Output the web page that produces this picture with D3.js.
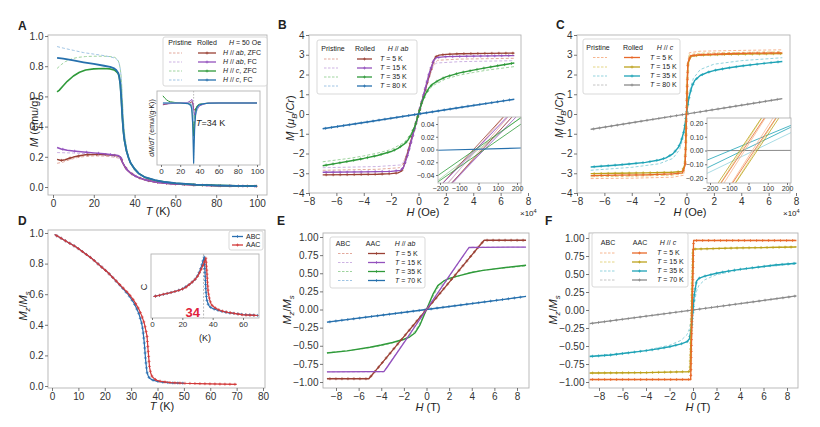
<!DOCTYPE html>
<html>
<head>
<meta charset="utf-8">
<script src="https://cdn.jsdelivr.net/npm/d3@7"></script>
<style>
  body { margin: 0; background: #fff; }
  svg { font-family: "Liberation Sans", Arial, sans-serif; }
</style>
</head>
<body>
<svg id="fig" width="820" height="427"></svg>
<script>
// ---------------- data ----------------
// A: M (emu/g) vs T (K), H = 50 Oe.  rolled = solid, pristine = dashed
const aAbZfc = [[2,.183],[4,.176],[6,.18],[8,.19],[10,.198],[13,.207],[16,.213],[20,.216],[25,.216],[30,.21],[32,.206],[33,.198],[33.5,.185],[34,.165],[35,.14],[36,.12],[37,.105],[38,.093],[40,.075],[42,.062],[45,.048],[50,.033],[55,.025],[60,.02],[70,.013],[80,.009],[90,.007],[100,.005]];
const aAbFc = [[2,.262],[4,.252],[7,.243],[10,.238],[15,.232],[20,.226],[25,.22],[30,.212],[32,.208],[33,.2],[33.5,.185],[34,.165],[35,.14],[36,.12],[37,.105],[38,.093],[40,.075],[42,.062],[45,.048],[50,.033],[55,.025],[60,.02],[70,.013],[80,.009],[90,.007],[100,.005]];
const aCZfc = [[2,.63],[3,.64],[5,.67],[7,.70],[10,.735],[13,.76],[16,.775],[20,.782],[25,.785],[28,.782],[30,.775],[31,.765],[32,.75],[32.5,.725],[33,.68],[33.5,.58],[34,.46],[34.5,.37],[35,.31],[36,.24],[37,.195],[38,.16],[40,.12],[42,.09],[45,.065],[50,.045],[55,.033],[60,.025],[70,.016],[80,.011],[90,.008],[100,.006]];
const aCFc = [[2,.855],[5,.85],[10,.838],[15,.826],[20,.815],[25,.803],[28,.795],[30,.785],[31,.775],[32,.755],[32.5,.73],[33,.68],[33.5,.58],[34,.46],[34.5,.37],[35,.31],[36,.24],[37,.195],[38,.16],[40,.12],[42,.09],[45,.065],[50,.045],[55,.033],[60,.025],[70,.016],[80,.011],[90,.008],[100,.006]];
const aAbZfcP = [[2,.157],[5,.165],[8,.18],[12,.195],[16,.203],[20,.206],[25,.205],[30,.198],[32,.192],[33,.185],[34,.165],[35,.14],[36,.12],[38,.09],[40,.072],[45,.046],[50,.032],[60,.019],[80,.009],[100,.005]];
const aAbFcP = [[2,.228],[10,.225],[20,.218],[28,.205],[32,.195],[33,.19],[34,.17],[35,.14],[36,.12],[38,.09],[40,.072],[45,.046],[50,.032],[60,.019],[80,.009],[100,.005]];
const aCZfcP = [[2,.785],[4,.81],[6,.83],[9,.848],[12,.858],[16,.864],[20,.866],[25,.866],[28,.864],[30,.86],[31,.852],[32,.835],[32.5,.815],[33,.78],[33.5,.72],[34,.58],[34.5,.45],[35,.36],[36,.26],[37,.2],[38,.155],[40,.11],[45,.06],[50,.04],[60,.022],[80,.01],[100,.006]];
const aCFcP = [[2,.93],[5,.92],[10,.905],[15,.89],[20,.88],[25,.87],[28,.862],[30,.855],[31,.848],[32,.835],[32.5,.815],[33,.78],[33.5,.72],[34,.58],[34.5,.45],[35,.36],[36,.26],[37,.2],[38,.155],[40,.11],[45,.06],[50,.04],[60,.022],[80,.01],[100,.006]];
// A inset: dM/dT (arb.)
const aiAbZfc = [[2,-.03],[5,-.02],[10,0],[30,0],[32,.02],[33,0],[34,-.1],[35,-.12],[36,-.1],[38,-.05],[40,-.025],[50,0],[100,0]];
const aiAbFc = [[2,-.02],[10,-.01],[20,0],[28,.01],[31,.04],[32,.06],[33,.02],[34,-.12],[35,-.2],[36,-.17],[38,-.1],[40,-.05],[45,-.015],[50,0],[100,0]];
const aiCZfc = [[2,.12],[4,.08],[6,.05],[8,.03],[10,.02],[14,.01],[20,0],[30,-.01],[32,-.05],[33,-.2],[34,-.55],[35,-.25],[36,-.1],[38,-.04],[40,-.02],[50,0],[100,0]];
const aiCFcP = [[2,0],[30,0],[32,-.03],[33,-.12],[34,-.3],[35,-.3],[36,-.2],[38,-.08],[40,-.03],[45,-.01],[50,0],[100,0]];
const aiCFc = [[2,0],[10,0],[20,0],[28,-.01],[31,-.04],[32,-.1],[33,-.35],[34,-1.0],[35,-.45],[36,-.2],[37,-.1],[38,-.06],[40,-.03],[45,-.01],[50,-.004],[60,0],[100,0]];
const aTicksX = [0, 20, 40, 60, 80, 100];
const aTicksY = [0, .2, .4, .6, .8, 1];

// B: M (muB/Cr) vs H (x10^4 Oe), H // ab
const b5 = [[-7,-3.08],[-5,-3.07],[-3,-3.05],[-2,-3.02],[-1.5,-2.98],[-1.25,-2.9],[-1.1,-2.7],[-0.8,-2.0],[-0.4,-1.0],[0,0],[0.4,1.0],[0.8,2.0],[1.1,2.7],[1.25,2.9],[1.5,2.98],[2,3.02],[3,3.05],[5,3.07],[7,3.08]];
const b15 = [[-7,-2.95],[-4,-2.93],[-2,-2.9],[-1.3,-2.85],[-1.1,-2.7],[-0.8,-2.1],[-0.4,-1.05],[0,0],[0.4,1.05],[0.8,2.1],[1.1,2.7],[1.3,2.85],[2,2.9],[4,2.93],[7,2.96]];
const b35 = [[-7,-2.62],[-6,-2.5],[-5,-2.38],[-4,-2.25],[-3,-2.1],[-2,-1.9],[-1.5,-1.74],[-1,-1.5],[-0.75,-1.3],[-0.5,-1.0],[-0.25,-0.6],[0,0],[0.25,0.6],[0.5,1.0],[0.75,1.3],[1,1.5],[1.5,1.72],[2,1.88],[3,2.08],[4,2.22],[5,2.35],[6,2.47],[7,2.58]];
const b80 = [[-7,-0.75],[-3.5,-0.38],[0,0],[3.5,0.38],[7,0.75]];
const b5P = [[-7,-2.85],[-3,-2.8],[-1.4,-2.72],[-1.15,-2.55],[-0.8,-1.9],[-0.4,-0.98],[0,0],[0.4,0.98],[0.8,1.9],[1.15,2.55],[1.4,2.72],[3,2.78],[7,2.82]];
const b15P = [[-7,-2.72],[-3,-2.66],[-1.3,-2.58],[-1.05,-2.4],[-0.8,-1.9],[-0.4,-0.98],[0,0],[0.4,0.98],[0.8,1.9],[1.05,2.4],[1.3,2.58],[3,2.65],[7,2.7]];
const b35P = [[-7,-2.42],[-5,-2.24],[-4,-2.12],[-3,-1.98],[-2,-1.8],[-1,-1.42],[-0.5,-0.95],[-0.25,-0.55],[0,0],[0.25,0.55],[0.5,0.95],[1,1.42],[2,1.78],[3,1.97],[4,2.1],[5,2.22],[7,2.4]];
const b80P = [[-7,-0.73],[0,0],[7,0.73]];
// B inset (Oe vs muB/Cr): each series holds the two sweep branches
const bi5 = [[[-250,-0.074],[250,0.091]], [[-250,-0.089],[250,0.076]]];
const bi15 = [[[-250,-0.073],[250,0.082]], [[-250,-0.087],[250,0.068]]];
const bi35 = [[[-250,-0.049],[250,0.056]], [[-250,-0.059],[250,0.046]]];
const bi80 = [[[-250,-0.0015],[250,0.0025]]];
const bi5P = [[[-250,-0.086],[250,0.094]], [[-250,-0.094],[250,0.086]]];
const bi15P = [[[-250,-0.083],[250,0.087]], [[-250,-0.093],[250,0.077]]];
const bi35P = [[[-250,-0.0575],[250,0.0575]]];
const hTicksMain = [-8, -6, -4, -2, 0, 2, 4, 6, 8];
const mTicks = [-4, -3, -2, -1, 0, 1, 2, 3, 4];
const insetHTicks = [-200, -100, 0, 100, 200];
const biTicksY = [-0.04, -0.02, 0, 0.02, 0.04];

// C: M (muB/Cr) vs H (x10^4 Oe), H // c
const c5 = [[-7,-3.12],[-5,-3.1],[-3,-3.08],[-1,-3.03],[-0.3,-2.98],[-0.1,-2.6],[0,0],[0.1,2.6],[0.3,2.95],[1,3.0],[3,3.05],[5,3.08],[7,3.1]];
const c15 = [[-7,-3.02],[-5,-3.0],[-3,-2.98],[-1,-2.95],[-0.3,-2.9],[-0.1,-2.5],[0,0],[0.1,2.5],[0.3,2.92],[1,2.98],[3,3.02],[5,3.04],[7,3.06]];
const c35 = [[-7,-2.68],[-6,-2.63],[-5,-2.58],[-4,-2.52],[-3,-2.45],[-2,-2.33],[-1.5,-2.22],[-1,-2.02],[-0.6,-1.7],[-0.4,-1.4],[-0.2,-0.9],[-0.1,-0.5],[0,0],[0.1,0.5],[0.2,0.9],[0.4,1.4],[0.6,1.7],[1,1.95],[1.5,2.1],[2,2.2],[3,2.33],[4,2.43],[5,2.51],[6,2.59],[7,2.66]];
const c80 = [[-7,-0.78],[-3.5,-0.39],[0,0],[3.5,0.39],[7,0.78]];
const c5P = [[-7,-3.27],[-4,-3.25],[-1,-3.2],[-0.2,-3.1],[-0.05,-2.0],[0,0],[0.05,2.0],[0.2,3.1],[1,3.18],[4,3.22],[7,3.25]];
const c15P = [[-7,-3.18],[-4,-3.15],[-1,-3.1],[-0.2,-3.0],[-0.05,-2.0],[0,0],[0.05,2.0],[0.2,3.0],[1,3.08],[4,3.12],[7,3.15]];
const c35P = [[-7,-2.85],[-4,-2.7],[-2,-2.52],[-1,-2.25],[-0.5,-1.8],[-0.25,-1.2],[-0.1,-0.55],[0,0],[0.1,0.55],[0.25,1.2],[0.5,1.8],[1,2.25],[2,2.52],[4,2.7],[7,2.85]];
const c80P = [[-7,-0.77],[0,0],[7,0.77]];
// C inset
const ci5 = [[[-250,-0.462],[250,0.588]], [[-250,-0.588],[250,0.462]]];
const ci15 = [[[-250,-0.43],[250,0.62]], [[-250,-0.62],[250,0.43]]];
const ci35 = [[[-250,-0.09],[250,0.20]], [[-250,-0.15],[250,0.19]]];
const ci80 = [[[-250,-0.001],[250,0.001]]];
const ci5P = [[[-250,-0.506],[250,0.594]], [[-250,-0.594],[250,0.506]]];
const ci15P = [[[-250,-0.467],[250,0.633]], [[-250,-0.633],[250,0.467]]];
const ci35P = [[[-250,-0.19],[250,0.15]]];
const ciTicksY = [-0.2, -0.1, 0, 0.1, 0.2];

// D: Mz/Ms vs T (K) and inset specific heat C (arb.)
const dAAC = [[1,.99],[3,.97],[5,.95],[7,.93],[9,.91],[11,.885],[13,.86],[15,.835],[17,.805],[19,.775],[21,.745],[23,.71],[25,.675],[27,.64],[29,.605],[31,.56],[32,.53],[33,.5],[34,.46],[35,.41],[36,.33],[36.5,.22],[37,.12],[37.5,.08],[38,.06],[39,.045],[40,.035],[42,.028],[45,.022],[50,.018],[55,.016],[60,.014],[65,.012],[70,.011]];
const dABC = [[1,.99],[3,.97],[5,.95],[7,.93],[9,.91],[11,.885],[13,.86],[15,.835],[17,.805],[19,.775],[21,.745],[23,.71],[25,.672],[27,.635],[29,.595],[31,.545],[32,.51],[33,.47],[34,.41],[34.5,.36],[35,.28],[35.5,.17],[36,.09],[36.5,.065],[37,.05],[38,.04],[40,.03],[42,.025],[45,.021],[50,.018]];
const dTicksX = [0, 10, 20, 30, 40, 50, 60, 70, 80];
const dTicksY = [0, .2, .4, .6, .8, 1];
const diAAC = [[1,.34],[3,.35],[5,.36],[8,.38],[10,.39],[12,.4],[15,.42],[18,.44],[20,.46],[22,.48],[24,.52],[26,.56],[28,.6],[30,.66],[31,.7],[32,.75],[33,.8],[34,.86],[35,.92],[35.5,.95],[36,.8],[36.5,.6],[37,.42],[38,.29],[39,.22],[40,.19],[42,.155],[45,.12],[48,.1],[50,.09],[55,.07],[60,.05],[65,.045],[70,.04]];
const diABC = [[1,.34],[5,.36],[10,.39],[15,.42],[20,.46],[25,.54],[28,.6],[30,.67],[31,.72],[32,.78],[33,.85],[34,.94],[34.5,.97],[35,.7],[35.5,.45],[36,.3],[37,.22],[38,.18],[40,.15],[45,.11],[50,.085],[60,.055],[70,.04]];
const diTicksX = [0, 20, 40, 60];

// E: Mz/Ms vs H (T), H // ab   (AAC solid, ABC dashed)
const e5 = [[-8.8,-.955],[-6,-.955],[-5.1,-.955],[-4,-.75],[-2,-.375],[0,0],[2,.375],[4,.75],[5.1,.955],[6,.955],[8.8,.955]];
const e15 = [[-8.8,-.86],[-5,-.858],[-3.75,-.855],[-3.5,-.8],[-2,-.46],[0,0],[2,.46],[3.5,.8],[3.75,.855],[5,.858],[8.8,.86]];
const e35 = [[-8.8,-.6],[-7,-.57],[-5,-.52],[-4,-.49],[-3,-.455],[-2,-.41],[-1.5,-.38],[-1,-.32],[-0.6,-.22],[-0.3,-.11],[0,0],[0.3,.11],[0.6,.22],[1,.33],[1.5,.39],[2,.43],[3,.47],[4,.51],[5,.54],[7,.58],[8.8,.61]];
const e70 = [[-8.8,-.175],[0,0],[8.8,.18]];
const e5P = [[-8.8,-.95],[-5,-.95],[-2.5,-.47],[0,0],[2.5,.47],[5,.95],[8.8,.95]];
const e15P = [[-8.8,-.86],[-3.8,-.86],[0,0],[3.8,.86],[8.8,.86]];
const e35P = [[-8.8,-.595],[-6,-.55],[-4,-.5],[-2,-.42],[-1,-.3],[-0.5,-.16],[0,0],[0.5,.16],[1,.3],[2,.42],[4,.52],[6,.56],[8.8,.6]];
const e70P = [[-8.8,-.178],[0,0],[8.8,.182]];
const efTicksY = [-1, -.75, -.5, -.25, 0, .25, .5, .75, 1];

// F: Mz/Ms vs H (T), H // c
const f5 = [[-8.8,-.965],[-0.2,-.965],[0.05,.965],[8.8,.965]];
const f15 = [[-8.8,-.875],[-4,-.87],[-0.25,-.855],[0,.845],[4,.862],[8.8,.875]];
const f35 = [[-8.8,-.645],[-7,-.625],[-6,-.605],[-5,-.585],[-4,-.565],[-3,-.54],[-2,-.51],[-1,-.47],[-0.5,-.44],[-0.3,-.40],[-0.1,-.2],[0,0],[0.1,.2],[0.3,.40],[0.5,.44],[1,.47],[2,.51],[3,.54],[4,.565],[5,.585],[6,.605],[7,.625],[8.8,.65]];
const f70 = [[-8.8,-.19],[0,0],[8.8,.195]];
const f5P = [[-8.8,-.97],[-0.15,-.97],[0.05,.97],[8.8,.97]];
const f15P = [[-8.8,-.88],[-0.2,-.86],[0.05,.85],[8.8,.88]];
const f35P = [[-8.8,-.64],[-6,-.6],[-4,-.56],[-2,-.49],[-1,-.42],[-0.5,-.34],[-0.3,-.26],[0,0],[0.3,.26],[0.5,.34],[1,.42],[2,.49],[4,.56],[6,.6],[8.8,.64]];
const f70P = [[-8.8,-.188],[0,0],[8.8,.193]];

// ---------------- colours ----------------
const col = {
  brown: '#9a4034', purple: '#9351bd', green: '#2f9a3a', blue: '#2670ad',
  orange: '#e8692a', olive: '#bda21c', teal: '#1ea3b6', gray: '#8a8a8a',
  brownL: '#e3a99c', purpleL: '#cdb3e3', greenL: '#9fd49f', blueL: '#9fc4e4',
  orangeL: '#f6b690', oliveL: '#e4d585', tealL: '#93d3dd', grayL: '#c4c4c4',
  abc: '#2a6fb0', aac: '#d23a3a'
};

// ---------------- helpers ----------------
const svg = d3.select('#fig');
const fmt1 = d3.format('.1f'), fmt2 = d3.format('.2f'), fmtI = d3.format('d');
let nClip = 0;

function rich(g, x, y, parts, o = {}) {
  const fs = o.size || 11;
  const t = g.append('text').attr('x', x).attr('y', y).attr('font-size', fs)
    .attr('text-anchor', o.anchor || 'start').attr('fill', o.fill || '#222');
  if (o.weight) t.attr('font-weight', o.weight);
  if (o.rotate) t.attr('transform', `rotate(-90,${x},${y})`);
  let shift = 0;
  parts.forEach(p => {
    const [s, st] = typeof p === 'string' ? [p, ''] : p;
    const ts = t.append('tspan').text(s);
    if (st.includes('i')) ts.attr('font-style', 'italic');
    const want = st.includes('_') ? fs * 0.3 : st.includes('^') ? -fs * 0.4 : 0;
    if (want !== shift) { ts.attr('dy', want - shift); shift = want; }
    if (want) ts.attr('font-size', fs * 0.7);
  });
  return t;
}

function panel(o) {
  const g = svg.append('g');
  const f = o.frame;
  const x = d3.scaleLinear().domain([o.x[0], o.x[2]]).range([o.x[1], o.x[3]]);
  const y = d3.scaleLinear().domain([o.y[0], o.y[2]]).range([o.y[1], o.y[3]]);
  const id = 'clip' + (nClip++);
  g.append('clipPath').attr('id', id).append('rect')
    .attr('x', f.l).attr('y', f.t).attr('width', f.r - f.l).attr('height', f.b - f.t);
  g.append('rect').attr('x', f.l).attr('y', f.t).attr('width', f.r - f.l).attr('height', f.b - f.t)
    .attr('fill', '#fff');
  const plot = g.append('g').attr('clip-path', `url(#${id})`);
  g.append('rect').attr('x', f.l).attr('y', f.t).attr('width', f.r - f.l).attr('height', f.b - f.t)
    .attr('fill', 'none').attr('stroke', o.frameColor || '#b3b3b3').attr('stroke-width', 0.9);
  const fs = o.fs || 10, tk = o.tick || 3;
  const style = a => {
    a.attr('font-family', null).attr('font-size', null);
    a.select('.domain').remove();
    a.selectAll('text').attr('font-size', fs).attr('fill', '#333');
    a.selectAll('line').attr('stroke', '#555').attr('stroke-width', 0.8);
  };
  if (o.xt) g.append('g').attr('transform', `translate(0,${f.b})`)
    .call(d3.axisBottom(x).tickValues(o.xt).tickFormat(o.xf || fmtI).tickSize(tk).tickPadding(1.5)).call(style);
  if (o.yt) g.append('g').attr('transform', `translate(${f.l},0)`)
    .call(d3.axisLeft(y).tickValues(o.yt).tickFormat(o.yf || fmtI).tickSize(tk).tickPadding(1.5)).call(style);
  return { g, x, y, plot };
}

function curve(p, data, color, o = {}) {
  const path = p.plot.append('path').datum(data)
    .attr('d', d3.line().x(d => p.x(d[0])).y(d => p.y(d[1])))
    .attr('fill', 'none').attr('stroke', color).attr('stroke-width', o.w || 1.3)
    .attr('stroke-linejoin', 'round')
    .attr('stroke-dasharray', o.dash ? '3,2' : null);
  if (o.mk) {
    const node = path.node(), L = node.getTotalLength();
    for (let s = o.mk / 2; s < L; s += o.mk) {
      const q = node.getPointAtLength(s);
      p.plot.append('path').attr('d', `M${q.x - 1.5},${q.y}h3M${q.x},${q.y - 1.5}v3`)
        .attr('stroke', color).attr('stroke-width', 0.7);
    }
  }
}

function lines(p, set, color, o = {}) { set.forEach(l => curve(p, l, color, o)); }

function legend(o) {
  const g = svg.append('g');
  g.append('rect').attr('x', o.box[0]).attr('y', o.box[1])
    .attr('width', o.box[2] - o.box[0]).attr('height', o.box[3] - o.box[1])
    .attr('rx', 2).attr('fill', '#fff').attr('stroke', '#cfcfcf').attr('stroke-width', 0.8);
  (o.head || []).forEach(h => rich(g, h[0], o.hy, h[1], { size: 7, anchor: 'middle' }));
  o.rows.forEach(r => {
    if (r.light) g.append('line').attr('x1', o.dash[0]).attr('x2', o.dash[1]).attr('y1', r.y).attr('y2', r.y)
      .attr('stroke', r.light).attr('stroke-width', 1).attr('stroke-dasharray', '2.5,1.5');
    g.append('line').attr('x1', o.solid[0]).attr('x2', o.solid[1]).attr('y1', r.y).attr('y2', r.y)
      .attr('stroke', r.dark).attr('stroke-width', 1.3);
    const mx = (o.solid[0] + o.solid[1]) / 2;
    g.append('path').attr('d', `M${mx - 1.5},${r.y}h3M${mx},${r.y - 1.5}v3`).attr('stroke', r.dark).attr('stroke-width', 0.7);
    rich(g, o.lx, r.y + 2.4, r.label, { size: 7 });
  });
}

const Tlab = v => [['T', 'i'], ` = ${v} K`];
const abLab = [['H', 'i'], ' // ', ['ab', 'i']];
const cLab = [['H', 'i'], ' // ', ['c', 'i']];

// ---------------- panel A ----------------
{
  const p = panel({ frame: { l: 48, r: 267, t: 35, b: 195 }, x: [0, 53, 100, 257], y: [0, 187, 1, 36],
    xt: aTicksX, yt: aTicksY, yf: fmt1 });
  curve(p, aAbZfcP, col.brownL, { dash: 1, w: 1 });
  curve(p, aAbFcP, col.purpleL, { dash: 1, w: 1 });
  curve(p, aCZfcP, col.greenL, { dash: 1, w: 1 });
  curve(p, aCFcP, col.blueL, { dash: 1, w: 1 });
  curve(p, aAbZfc, col.brown, { mk: 9, w: 1.5 });
  curve(p, aAbFc, col.purple, { mk: 12, w: 1.5 });
  curve(p, aCZfc, col.green, { w: 1.6 });
  curve(p, aCFc, col.blue, { w: 1.8 });
  legend({ box: [163, 37, 267, 86], hy: 44.5,
    head: [[180, ['Pristine']], [207, ['Rolled']], [245, [['H', 'i'], ' = 50 Oe']]],
    dash: [169, 182], solid: [198, 216], lx: 223,
    rows: [
      { y: 53, light: col.brownL, dark: col.brown, label: [...abLab, ', ZFC'] },
      { y: 62, light: col.purpleL, dark: col.purple, label: [...abLab, ', FC'] },
      { y: 71, light: col.greenL, dark: col.green, label: [...cLab, ', ZFC'] },
      { y: 80, light: col.blueL, dark: col.blue, label: [...cLab, ', FC'] }
    ] });
  // inset
  const q = panel({ frame: { l: 157, r: 260, t: 91, b: 165 }, x: [0, 161, 100, 257], y: [0, 103, -1, 163],
    xt: aTicksX, fs: 8, tick: 2 });
  q.plot.append('line').attr('x1', q.x(34)).attr('x2', q.x(34)).attr('y1', 91).attr('y2', 165)
    .attr('stroke', '#999').attr('stroke-width', 0.7).attr('stroke-dasharray', '1.5,1.5');
  curve(q, aiAbZfc, col.brown, { w: 1 });
  curve(q, aiCZfc, col.green, { w: 1 });
  curve(q, aiAbFc, col.purple, { w: 1 });
  curve(q, aiCFcP, col.blueL, { w: 1.2 });
  curve(q, aiCFc, col.blue, { w: 1.2 });
  rich(svg, 196, 126, [['T', 'i'], '=34 K'], { size: 9 });
  rich(svg, 154, 128, [['dM', 'i'], '/', ['dT', 'i'], ' (emu/(g·K))'], { size: 7, anchor: 'middle', rotate: 1 });
  rich(svg, 38, 122, [['M', 'i'], ' (emu/g)'], { anchor: 'middle', rotate: 1 });
  rich(svg, 158, 215, [['T', 'i'], ' (K)'], { anchor: 'middle' });
  rich(svg, 18, 30, ['A'], { size: 12, weight: 'bold' });
}

// ---------------- panel B ----------------
{
  const p = panel({ frame: { l: 309, r: 521, t: 35, b: 193 }, x: [-8, 309, 8, 528], y: [-4, 193, 4, 35],
    xt: hTicksMain, yt: mTicks });
  curve(p, b5P, col.brownL, { dash: 1, w: 1 });
  curve(p, b15P, col.purpleL, { dash: 1, w: 1 });
  curve(p, b35P, col.greenL, { dash: 1, w: 1 });
  curve(p, b80P, col.blueL, { dash: 1, w: 1 });
  curve(p, b5, col.brown, { mk: 7 });
  curve(p, b15, col.purple, { mk: 7 });
  curve(p, b35, col.green, { mk: 7, w: 1.4 });
  curve(p, b80, col.blue, { mk: 6, w: 1.4 });
  legend({ box: [317, 40, 417, 94], hy: 51,
    head: [[333, ['Pristine']], [365, ['Rolled']], [398, abLab]],
    dash: [324, 338], solid: [357, 372], lx: 380,
    rows: [
      { y: 59, light: col.brownL, dark: col.brown, label: Tlab(5) },
      { y: 68, light: col.purpleL, dark: col.purple, label: Tlab(15) },
      { y: 77, light: col.greenL, dark: col.green, label: Tlab(35) },
      { y: 86, light: col.blueL, dark: col.blue, label: Tlab(80) }
    ] });
  const q = panel({ frame: { l: 438, r: 521, t: 117, b: 183 }, x: [-200, 440, 200, 517], y: [-0.04, 175, 0.04, 124],
    xt: insetHTicks, yt: biTicksY, yf: fmt2, fs: 7, tick: 2 });
  lines(q, bi5P, col.brownL, { w: 0.8 });
  lines(q, bi15P, col.purpleL, { w: 0.8 });
  lines(q, bi35P, col.greenL, { w: 0.8 });
  lines(q, bi5, col.brown, { w: 0.8 });
  lines(q, bi15, col.purple, { w: 0.8 });
  lines(q, bi35, col.green, { w: 0.8 });
  lines(q, bi80, col.blue, { w: 1.1 });
  rich(svg, 294, 118, [['M', 'i'], ' (', ['μ', 'i'], ['B', 'i_'], '/', ['Cr', 'i'], ')'], { anchor: 'middle', rotate: 1 });
  rich(svg, 423, 216, [['H', 'i'], ' (Oe)'], { anchor: 'middle' });
  rich(svg, 520, 216, ['×10', ['4', '^']], { size: 8 });
  rich(svg, 278, 29, ['B'], { size: 12, weight: 'bold' });
}

// ---------------- panel C ----------------
{
  const p = panel({ frame: { l: 577, r: 790, t: 35, b: 193 }, x: [-8, 577, 8, 796], y: [-4, 193, 4, 35],
    xt: hTicksMain, yt: mTicks });
  curve(p, c5P, col.orangeL, { dash: 1, w: 1 });
  curve(p, c15P, col.oliveL, { dash: 1, w: 1 });
  curve(p, c35P, col.tealL, { dash: 1, w: 1 });
  curve(p, c80P, col.grayL, { dash: 1, w: 1 });
  curve(p, c80, col.gray, { mk: 6, w: 1.2 });
  curve(p, c35, col.teal, { mk: 7, w: 1.4 });
  curve(p, c15, col.olive, { mk: 7 });
  curve(p, c5, col.orange, { mk: 7 });
  legend({ box: [583, 39, 680, 94], hy: 50,
    head: [[598, ['Pristine']], [633, ['Rolled']], [665, cLab]],
    dash: [593, 607], solid: [624, 640], lx: 650,
    rows: [
      { y: 57.5, light: col.orangeL, dark: col.orange, label: Tlab(5) },
      { y: 67, light: col.oliveL, dark: col.olive, label: Tlab(15) },
      { y: 76, light: col.tealL, dark: col.teal, label: Tlab(35) },
      { y: 85, light: col.grayL, dark: col.gray, label: Tlab(80) }
    ] });
  const q = panel({ frame: { l: 707, r: 791, t: 118, b: 183 }, x: [-200, 710, 200, 787], y: [-0.2, 178, 0.2, 123],
    xt: insetHTicks, yt: ciTicksY, yf: fmt2, fs: 7, tick: 2 });
  lines(q, ci80, col.gray, { w: 1 });
  lines(q, ci35P, col.tealL, { w: 0.8 });
  lines(q, ci35, col.teal, { w: 0.8 });
  lines(q, ci5P, col.orangeL, { w: 0.8 });
  lines(q, ci15P, col.oliveL, { w: 0.8 });
  lines(q, ci15, col.olive, { w: 0.8 });
  lines(q, ci5, col.orange, { w: 0.8 });
  rich(svg, 563, 115, [['M', 'i'], ' (', ['μ', 'i'], ['B', 'i_'], '/', ['Cr', 'i'], ')'], { anchor: 'middle', rotate: 1 });
  rich(svg, 690, 216, [['H', 'i'], ' (Oe)'], { anchor: 'middle' });
  rich(svg, 783, 216, ['×10', ['4', '^']], { size: 8 });
  rich(svg, 556, 29, ['C'], { size: 12, weight: 'bold' });
}

// ---------------- panel D ----------------
{
  const p = panel({ frame: { l: 48, r: 265, t: 230, b: 388 }, x: [0, 52, 80, 263], y: [0, 386, 1, 233],
    xt: dTicksX, yt: dTicksY, yf: fmt1 });
  curve(p, dABC, col.abc, { mk: 5, w: 1.2 });
  curve(p, dAAC, col.aac, { mk: 5, w: 1.2 });
  legend({ box: [229, 231, 263, 250], dash: [0, 0], solid: [232, 243], lx: 246,
    rows: [{ y: 236.5, dark: col.abc, label: ['ABC'] }, { y: 245, dark: col.aac, label: ['AAC'] }] });
  const q = panel({ frame: { l: 151, r: 259, t: 254, b: 318 }, x: [0, 152, 60, 243], y: [0, 318, 1, 255],
    xt: diTicksX, fs: 8, tick: 2 });
  q.plot.append('line').attr('x1', q.x(34)).attr('x2', q.x(34)).attr('y1', 254).attr('y2', 318)
    .attr('stroke', '#999').attr('stroke-width', 0.7).attr('stroke-dasharray', '2,1.5');
  curve(q, diABC, col.abc, { mk: 4, w: 1.1 });
  curve(q, diAAC, col.aac, { mk: 4, w: 1.1 });
  rich(svg, 200, 317, ['34'], { size: 13, weight: 'bold', anchor: 'end', fill: '#e0223c' });
  rich(svg, 205, 341, ['(K)'], { size: 9, anchor: 'middle' });
  rich(svg, 147, 287, ['C'], { size: 9, anchor: 'middle', rotate: 1 });
  rich(svg, 27, 306, [['M', 'i'], ['z', 'i_'], '/', ['M', 'i'], ['s', 'i_']], { anchor: 'middle', rotate: 1 });
  rich(svg, 162, 410, [['T', 'i'], ' (K)'], { anchor: 'middle' });
  rich(svg, 18, 225, ['D'], { size: 12, weight: 'bold' });
}

// ---------------- panel E ----------------
{
  const p = panel({ frame: { l: 323, r: 529, t: 233, b: 388 }, x: [-8, 336, 8, 517], y: [-1, 382, 1, 237],
    xt: hTicksMain, yt: efTicksY, yf: fmt2 });
  curve(p, e5P, col.brownL, { dash: 1, w: 1 });
  curve(p, e15P, col.purpleL, { dash: 1, w: 1 });
  curve(p, e35P, col.greenL, { dash: 1, w: 1 });
  curve(p, e70P, col.blueL, { dash: 1, w: 1 });
  curve(p, e70, col.blue, { mk: 6, w: 1.3 });
  curve(p, e35, col.green, { w: 1.4 });
  curve(p, e5, col.brown, { mk: 6, w: 1.3 });
  curve(p, e15, col.purple, { w: 1.3 });
  legend({ box: [330, 237, 425, 288], hy: 246,
    head: [[343, ['ABC']], [373, ['AAC']], [405, abLab]],
    dash: [338, 352], solid: [368, 385], lx: 395,
    rows: [
      { y: 253.5, light: col.brownL, dark: col.brown, label: Tlab(5) },
      { y: 262.5, light: col.purpleL, dark: col.purple, label: Tlab(15) },
      { y: 271.5, light: col.greenL, dark: col.green, label: Tlab(35) },
      { y: 280.5, light: col.blueL, dark: col.blue, label: Tlab(70) }
    ] });
  rich(svg, 291, 310, [['M', 'i'], ['z', 'i_'], '/', ['M', 'i'], ['s', 'i_']], { anchor: 'middle', rotate: 1 });
  rich(svg, 428, 411, [['H', 'i'], ' (T)'], { anchor: 'middle' });
  rich(svg, 277, 225, ['E'], { size: 12, weight: 'bold' });
}

// ---------------- panel F ----------------
{
  const p = panel({ frame: { l: 589, r: 798, t: 233, b: 388 }, x: [-8, 599, 8, 787], y: [-1, 382, 1, 238],
    xt: hTicksMain, yt: efTicksY, yf: fmt2 });
  curve(p, f5P, col.orangeL, { dash: 1, w: 1 });
  curve(p, f15P, col.oliveL, { dash: 1, w: 1 });
  curve(p, f35P, col.tealL, { dash: 1, w: 1 });
  curve(p, f70P, col.grayL, { dash: 1, w: 1 });
  curve(p, f70, col.gray, { mk: 6, w: 1.2 });
  curve(p, f35, col.teal, { mk: 6, w: 1.4 });
  curve(p, f15, col.olive, { mk: 6, w: 1.3 });
  curve(p, f5, col.orange, { mk: 6, w: 1.3 });
  legend({ box: [592, 233, 688, 287], hy: 245,
    head: [[608, ['ABC']], [640, ['AAC']], [668, cLab]],
    dash: [600, 615], solid: [632, 647], lx: 657,
    rows: [
      { y: 253, light: col.orangeL, dark: col.orange, label: Tlab(5) },
      { y: 262, light: col.oliveL, dark: col.olive, label: Tlab(15) },
      { y: 271, light: col.tealL, dark: col.teal, label: Tlab(35) },
      { y: 280, light: col.grayL, dark: col.gray, label: Tlab(70) }
    ] });
  rich(svg, 557, 310, [['M', 'i'], ['z', 'i_'], '/', ['M', 'i'], ['s', 'i_']], { anchor: 'middle', rotate: 1 });
  rich(svg, 698, 411, [['H', 'i'], ' (T)'], { anchor: 'middle' });
  rich(svg, 545, 225, ['F'], { size: 12, weight: 'bold' });
}
</script>
</body>
</html>
